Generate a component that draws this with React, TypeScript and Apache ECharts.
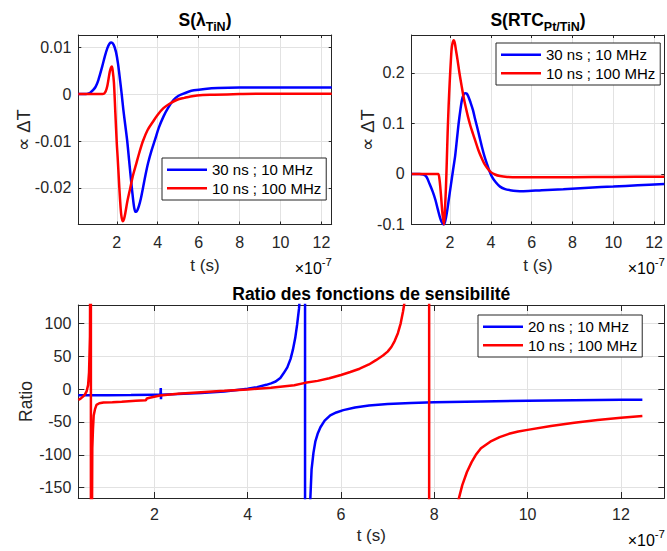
import React, { useEffect, useRef } from "react";
import * as echarts from "echarts";

// ---------- data (time in units of 1e-7 s) ----------
// Top-left: S(lambda_TiN)
const tlBlueT = [0.12, 0.4, 0.55, 0.7, 0.85, 0.97, 1.1, 1.29, 1.42, 1.54, 1.65, 1.74, 1.85, 1.96, 2.06, 2.16, 2.24, 2.32, 2.42, 2.51, 2.6, 2.7, 2.79, 2.85, 2.9, 2.95, 3.0, 3.08, 3.18, 3.28, 3.4, 3.53, 3.7, 3.87, 4.05, 4.28, 4.5, 4.78, 5.0, 5.2, 5.5, 5.77, 6.3, 6.93, 8.0, 9.4, 11.0, 12.5];
const tlBlueY = [0, 0, 0.00005, 0.0003, 0.0009, 0.0016, 0.003, 0.0059, 0.0081, 0.0098, 0.0108, 0.011, 0.0105, 0.009, 0.0065, 0.003, 0, -0.0033, -0.0068, -0.01, -0.014, -0.0185, -0.0222, -0.0242, -0.025, -0.0251, -0.0248, -0.0239, -0.0222, -0.02, -0.0173, -0.0147, -0.012, -0.0097, -0.0072, -0.0048, -0.003, -0.0012, -0.0004, 0, 0.0005, 0.0008, 0.0011, 0.0013, 0.0014, 0.0014, 0.0014, 0.0014];
const tlRedT = [0.12, 1.0, 1.3, 1.38, 1.46, 1.54, 1.6, 1.66, 1.72, 1.76, 1.8, 1.86, 1.93, 2.0, 2.04, 2.1, 2.16, 2.22, 2.29, 2.35, 2.42, 2.52, 2.66, 2.8, 2.96, 3.1, 3.28, 3.5, 3.78, 4.0, 4.28, 4.6, 4.95, 5.3, 5.6, 6.2, 6.77, 8.0, 9.4, 11.0, 12.5];
const tlRedY = [0, 0, 0, 0.0001, 0.0006, 0.0018, 0.0033, 0.0048, 0.0057, 0.0059, 0.005, 0.0025, -0.004, -0.0105, -0.0133, -0.018, -0.0225, -0.0258, -0.0271, -0.0267, -0.0253, -0.0228, -0.02, -0.0172, -0.0147, -0.0125, -0.01, -0.0077, -0.0058, -0.0044, -0.003, -0.002, -0.0012, -0.0008, -0.0005, -0.0002, -0.00015, 0, 0.0001, 0.0001, 0.0001];

// Top-right: S(RTC_Pt/TiN)
const trBlueT = [0.12, 0.5, 0.7, 0.85, 1.0, 1.15, 1.28, 1.4, 1.52, 1.6, 1.68, 1.76, 1.85, 1.94, 2.04, 2.14, 2.25, 2.34, 2.42, 2.5, 2.58, 2.66, 2.74, 2.82, 2.9, 3.0, 3.12, 3.22, 3.32, 3.44, 3.56, 3.68, 3.8, 3.92, 4.05, 4.25, 4.45, 4.7, 4.94, 5.25, 5.6, 6.5, 7.55, 8.8, 10.0, 11.2, 12.5];
const trBlueY = [0, 0, -0.001, -0.006, -0.02, -0.035, -0.051, -0.07, -0.088, -0.096, -0.1, -0.094, -0.075, -0.05, -0.022, 0.006, 0.036, 0.07, 0.1, 0.125, 0.146, 0.157, 0.16, 0.159, 0.153, 0.142, 0.127, 0.11, 0.094, 0.074, 0.054, 0.036, 0.021, 0.007, -0.005, -0.017, -0.025, -0.03, -0.032, -0.0335, -0.034, -0.032, -0.03, -0.027, -0.025, -0.0225, -0.02];
const trRedT = [0.12, 1.3, 1.42, 1.48, 1.53, 1.58, 1.63, 1.7, 1.75, 1.8, 1.84, 1.88, 1.93, 1.98, 2.04, 2.09, 2.17, 2.23, 2.29, 2.37, 2.46, 2.56, 2.66, 2.77, 2.88, 3.0, 3.12, 3.25, 3.39, 3.53, 3.67, 3.82, 3.97, 4.2, 4.45, 4.8, 5.27, 6.5, 8.0, 10.0, 12.5];
const trRedY = [0, 0, 0, -0.01, -0.03, -0.055, -0.08, -0.1, -0.07, -0.025, 0.025, 0.08, 0.135, 0.18, 0.225, 0.252, 0.265, 0.26, 0.245, 0.225, 0.2, 0.176, 0.153, 0.132, 0.113, 0.095, 0.08, 0.064, 0.047, 0.033, 0.021, 0.012, 0.0046, -0.001, -0.004, -0.0058, -0.0066, -0.0066, -0.0063, -0.0058, -0.0053];

// Bottom: ratio
const bBlueT = [0.37, 0.7, 1.0, 1.5, 2.0, 2.13, 2.138, 2.142, 2.148, 2.16, 2.5, 3.0, 3.5, 4.0, 4.2, 4.4, 4.5, 4.6, 4.7, 4.77, 4.85, 4.92, 4.97, 5.02, 5.06, 5.1, 5.13, 5.17, 5.2, 5.23, 5.23, 5.27, 5.31, 5.34, 5.37, 5.41, 5.45, 5.5, 5.56, 5.65, 5.77, 5.9, 6.05, 6.3, 6.6, 7.0, 7.5, 8.0, 9.0, 10.0, 11.0, 12.0, 12.46];
const bBlueY = [-9.5, -9.4, -9.3, -9.1, -8.7, -8.6, 1.5, -15.5, -8.5, -8.4, -7.6, -5.8, -3.5, 0.5, 3, 6.5, 8.8, 11.5, 17, 24, 33, 46, 60, 78, 98, 122, 150, 230, 500, 5000, -5000, -700, -260, -172, -122, -97, -80, -68, -58, -48, -40, -35.5, -32, -28, -25, -22.7, -21.2, -20, -18.8, -17.8, -17, -16.3, -16];
const bRedT = [0.37, 0.42, 0.47, 0.51, 0.55, 0.58, 0.6, 0.62, 0.63, 0.64, 0.64, 0.65, 0.66, 0.67, 0.685, 0.7, 0.73, 0.76, 0.82, 0.91, 1.1, 1.3, 1.6, 1.82, 1.84, 1.9, 2.12, 2.5, 3.0, 3.5, 4.0, 4.5, 4.8, 5.0, 5.23, 5.5, 5.75, 6.0, 6.2, 6.4, 6.6, 6.75, 6.9, 7.0, 7.08, 7.15, 7.22, 7.28, 7.33, 7.38, 7.45, 7.55, 7.7, 7.89, 7.89, 8.1, 8.3, 8.45, 8.52, 8.6, 8.7, 8.8, 8.9, 9.0, 9.2, 9.4, 9.6, 9.8, 10.0, 10.5, 11.0, 11.5, 12.0, 12.46];
const bRedY = [-16.6, -14.5, -11.5, -8.5, -3, 6, 25, 80, 300, 5000, -5000, -700, -250, -90, -60, -40, -30, -24, -21.5, -20.3, -20, -19.2, -17.8, -16.8, -14.2, -13.2, -9.8, -7, -4.6, -2.6, -0.5, 2, 4.5, 6, 9.5, 12.5, 16.5, 21.5, 26, 31, 37.5, 44, 51, 57, 64, 73, 85, 100, 118, 140, 180, 260, 560, 5000, -5000, -700, -330, -210, -168, -146, -126, -111, -99, -90, -80, -73, -68, -64.5, -62, -56, -51, -47, -43.5, -41];

const topNames = ["30 ns ; 10 MHz", "10 ns ; 100 MHz"];
const bottomNames = ["20 ns ; 10 MHz", "10 ns ; 100 MHz"];

const FONT = "'Liberation Sans', Arial, Helvetica, sans-serif";
const AX = "#262626";
const GRIDC = "#e2e2e2";
const BLUE = "#0000ff";
const RED = "#ff0000";

const zip = (t: number[], y: number[]) => t.map((v, i) => [v, y[i]]);

type G = { left: number; top: number; width: number; height: number };
const grids: G[] = [
  { left: 78.3, top: 35, width: 253.4, height: 189.5 },
  { left: 411.7, top: 35, width: 252.6, height: 189.5 },
  { left: 78.3, top: 305, width: 586, height: 193 },
];

function xAxes(gi: number, min: number, max: number, step: number, tick: number, margin: number) {
  const line = { show: true, onZero: false, lineStyle: { color: AX, width: 1 } };
  return [
    {
      type: "value", gridIndex: gi, position: "bottom", min, max, minInterval: step, maxInterval: step,
      axisLine: line, axisTick: { show: true, inside: true, length: tick, lineStyle: { color: AX } },
      axisLabel: { showMinLabel: false, showMaxLabel: false, fontSize: 16, fontFamily: FONT, color: AX, margin },
      splitLine: { show: true, lineStyle: { color: GRIDC, width: 1 } },
    },
    {
      type: "value", gridIndex: gi, position: "top", min, max, minInterval: step, maxInterval: step,
      axisLine: line, axisTick: { show: true, inside: true, length: tick, lineStyle: { color: AX } },
      axisLabel: { show: false }, splitLine: { show: false },
    },
  ];
}
function yAxes(gi: number, min: number, max: number, step: number, tick: number, showMin: boolean) {
  const line = { show: true, onZero: false, lineStyle: { color: AX, width: 1 } };
  return [
    {
      type: "value", gridIndex: gi, position: "left", min, max, minInterval: step, maxInterval: step,
      axisLine: line, axisTick: { show: true, inside: true, length: tick, lineStyle: { color: AX } },
      axisLabel: { showMinLabel: showMin, showMaxLabel: false, fontSize: 16, fontFamily: FONT, color: AX, margin: 7 },
      splitLine: { show: true, lineStyle: { color: GRIDC, width: 1 } },
    },
    {
      type: "value", gridIndex: gi, position: "right", min, max, minInterval: step, maxInterval: step,
      axisLine: line, axisTick: { show: true, inside: true, length: tick, lineStyle: { color: AX } },
      axisLabel: { show: false }, splitLine: { show: false },
    },
  ];
}

function line(name: string, gi: number, t: number[], y: number[], color: string, smooth: number | boolean) {
  return {
    type: "line", name, xAxisIndex: gi * 2, yAxisIndex: gi * 2, data: zip(t, y),
    symbol: "none", showSymbol: false, smooth, clip: true,
    lineStyle: { color, width: 2.5 }, itemStyle: { color }, emphasis: { disabled: true },
  };
}

function legend(names: string[], left: number, top: number) {
  return {
    show: true, orient: "vertical", left, top, data: names, selectedMode: false,
    icon: "rect", itemWidth: 40, itemHeight: 2.5, itemGap: 1, padding: [3, 5, 3, 5],
    borderColor: AX, borderWidth: 1, backgroundColor: "#ffffff",
    textStyle: { fontSize: 15, fontFamily: FONT, color: "#000", lineHeight: 17.5 },
  };
}

function txt(x: number, y: number, text: string, size: number, opts: any = {}) {
  return {
    type: "text", x, y, rotation: opts.rotation || 0, z: 100,
    style: {
      text, fontSize: size, fontFamily: FONT, fontWeight: opts.bold ? "bold" : "normal",
      fill: opts.color || "#000", align: opts.align || "center", verticalAlign: "middle", rich: opts.rich,
    },
  };
}

const titleRich = {
  m: { fontSize: 17.5, fontWeight: "bold", fontFamily: FONT, color: "#000" },
  s: { fontSize: 12.5, fontWeight: "bold", fontFamily: FONT, color: "#000", padding: [13, 0, 0, 0] },
};
const expRich = {
  a: { fontSize: 16, fontFamily: FONT, color: AX },
  b: { fontSize: 11.5, fontFamily: FONT, color: AX, padding: [0, 0, 12, 0] },
};

const option: any = {
  animation: false,
  backgroundColor: "#ffffff",
  grid: grids.map((g) => ({ ...g, containLabel: false, show: false })),
  xAxis: [
    ...xAxes(0, 0.12, 12.5, 2, 3, 10),
    ...xAxes(1, 0.12, 12.5, 2, 3, 10),
    ...xAxes(2, 0.37, 12.93, 2, 6, 8),
  ],
  yAxis: [
    ...yAxes(0, -0.0278, 0.0126, 0.01, 3, false),
    ...yAxes(1, -0.1, 0.2752, 0.1, 3, true),
    ...yAxes(2, -165.6, 127.9, 50, 6, false),
  ],
  legend: [
    legend(topNames, 162, 158),
    legend(topNames, 496, 43),
    legend(bottomNames, 478, 315),
  ],
  series: [
    line(topNames[0], 0, tlBlueT, tlBlueY, BLUE, 0.3),
    line(topNames[1], 0, tlRedT, tlRedY, RED, 0.3),
    line(topNames[0], 1, trBlueT, trBlueY, BLUE, 0.3),
    line(topNames[1], 1, trRedT, trRedY, RED, 0.3),
    line(bottomNames[0], 2, bBlueT, bBlueY, BLUE, false),
    line(bottomNames[1], 2, bRedT, bRedY, RED, false),
  ],
  graphic: [
    txt(205, 20, "{m|S(λ}{s|TiN}{m|)}", 17.5, { rich: titleRich }),
    txt(538, 20, "{m|S(RTC}{s|Pt/TiN}{m|)}", 17.5, { rich: titleRich }),
    txt(371.3, 294.3, "Ratio des fonctions de sensibilité", 17.5, { bold: true }),
    txt(205, 265, "t (s)", 17, { color: AX }),
    txt(538, 265, "t (s)", 17, { color: AX }),
    txt(371.3, 535.8, "t (s)", 17, { color: AX }),
    txt(23.3, 130, "∝ ΔT", 18.5, { color: AX, rotation: Math.PI / 2 }),
    txt(367.5, 130, "∝ ΔT", 18.5, { color: AX, rotation: Math.PI / 2 }),
    txt(25.8, 401.5, "Ratio", 17.5, { color: AX, rotation: Math.PI / 2 }),
    txt(332, 268, "{a|×10}{b|-7}", 16, { align: "right", rich: expRich }),
    txt(665, 268, "{a|×10}{b|-7}", 16, { align: "right", rich: expRich }),
    txt(665, 540, "{a|×10}{b|-7}", 16, { align: "right", rich: expRich }),
  ],
};

export default function App() {
  const ref = useRef<HTMLDivElement>(null);
  useEffect(() => {
    if (!ref.current) return;
    const chart = echarts.init(ref.current, null, { renderer: "svg" });
    chart.setOption(option);
    return () => chart.dispose();
  }, []);
  return (
    <div
      ref={ref}
      style={{ position: "fixed", left: 0, top: 0, width: 667, height: 551, background: "#fff" }}
    />
  );
}
